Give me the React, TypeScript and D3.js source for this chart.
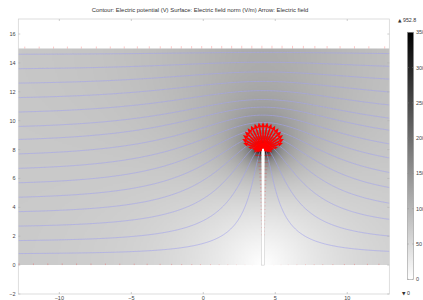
import React, { useMemo } from "react"
import * as d3 from "d3"

const width = 423
const height = 300

const title =
  "Contour: Electric potential (V) Surface: Electric field norm (V/m) Arrow: Electric field"

// axes
const xDomain = [-12.85, 12.92]
const yDomain = [-2, 17.04]
const xTicks = [-10, -5, 0, 5, 10]
const yTicks = [-2, 0, 2, 4, 6, 8, 10, 12, 14, 16]

// geometry: plate gap and needle electrode
const gapBottom = 0
const gapTop = 15
const needleX = 4.15
const needleHalfWidth = 0.1
const needleTip = 8.0

// surface colour range
const farField = 75
const colorMax = 350
const fieldMax = 952.8
const fieldMin = 0
const colorTicks = [0, 50, 100, 150, 200, 250, 300, 350]

// heights where the potential contours meet the left edge of the view
const contourLeftY = [0.8, 1.7, 2.7, 3.7, 4.7, 5.7, 6.7, 7.7, 8.7, 9.6, 10.6, 11.6, 12.6, 13.6, 14.6]

// arrows on the needle tip: direction (deg) and length (axis units)
const fanAngles = [-18, -9, 0, 9, 18, 27, 36, 45, 54, 63, 72, 81, 90, 99, 108, 117, 126, 135, 144, 153, 162, 171, 180, 189, 198]
const fanLengths = [0.4, 0.5, 0.62, 0.95, 1.35, 1.52, 1.62, 1.68, 1.72, 1.76, 1.78, 1.8, 1.8, 1.8, 1.78, 1.76, 1.72, 1.68, 1.62, 1.52, 1.35, 0.95, 0.62, 0.5, 0.4]

// arrows on the needle sides
const sideY = [7.85, 7.6, 7.35, 7.1, 6.85, 6.6, 6.35, 6.1, 5.85, 5.6, 5.35, 5.1, 4.85, 4.6, 4.35, 4.1, 3.85, 3.6, 3.35, 3.1, 2.85, 2.6, 2.35, 2.1]
const sideLengths = [0.55, 0.46, 0.4, 0.34, 0.29, 0.25, 0.22, 0.2, 0.18, 0.16, 0.15, 0.14, 0.13, 0.12, 0.11, 0.1, 0.09, 0.08, 0.07, 0.07, 0.06, 0.05, 0.05, 0.04]

// arrows on the plates
const topArrowX = [-12.4, -11.4, -10.4, -9.44, -8.47, -7.43, -6.46, -5.49, -4.58, -3.75, -2.99, -2.22, -1.53, -0.81, -0.11, 0.58, 1.28, 1.97, 2.67, 3.37, 4.07, 4.77, 5.47, 6.2, 6.95, 7.75, 8.6, 9.5, 10.5, 11.5, 12.6]
const bottomArrowX = [-12.8, -11.8, -10.8, -9.8, -8.8, -7.8, -6.8, -5.8, -4.8, -3.9, -3.0, -2.2, -1.5, -0.8, -0.2, 0.5, 1.1, 1.7, 2.3, 2.9, 3.4, 4.9, 5.4, 5.9, 6.5, 7.1, 7.7, 8.3, 9.0, 9.8, 10.5, 11.4, 12.2]
const arrowScale = 0.0022

const xs = d3.scaleLinear().domain(xDomain).range([18.3, 389.3])
const ys = d3.scaleLinear().domain(yDomain).range([294, 19])
const cs = d3.scaleLinear().domain([0, colorMax]).range([279.3, 32.3])
const grey = d3.scaleLinear().domain([0, colorMax]).range([255, 0]).clamp(true)

const H = 0.1
const GX0 = -25
const NX = 501

function buildModel() {
  const ny = Math.round((gapTop - gapBottom) / H) + 1
  const nx = NX
  const V = new Float64Array(nx * ny)
  const fixed = new Uint8Array(nx * ny)
  const needle = new Uint8Array(nx * ny)
  for (let j = 0; j < ny; j++) {
    const y = gapBottom + j * H
    for (let i = 0; i < nx; i++) {
      const x = GX0 + i * H
      const k = j * nx + i
      V[k] = 1 - (y - gapBottom) / (gapTop - gapBottom)
      const inside = Math.abs(x - needleX) <= needleHalfWidth + 1e-6 && y <= needleTip + 1e-6
      if (inside) needle[k] = 1
      if (j === 0 || inside) {
        V[k] = 1
        fixed[k] = 1
      }
      if (j === ny - 1) {
        V[k] = 0
        fixed[k] = 1
      }
    }
  }
  // SOR relaxation of Laplace's equation
  const w = 1.92
  for (let it = 0; it < 1400; it++) {
    for (let j = 1; j < ny - 1; j++) {
      const row = j * nx
      for (let i = 0; i < nx; i++) {
        const k = row + i
        if (fixed[k]) continue
        const l = i > 0 ? V[k - 1] : V[k + 1]
        const r = i < nx - 1 ? V[k + 1] : V[k - 1]
        const g = 0.25 * (l + r + V[k - nx] + V[k + nx])
        V[k] += w * (g - V[k])
      }
    }
  }
  const scale = farField * (gapTop - gapBottom)
  const Ex = new Float64Array(nx * ny)
  const Ey = new Float64Array(nx * ny)
  const E = new Float64Array(nx * ny)
  for (let j = 0; j < ny; j++) {
    for (let i = 1; i < nx - 1; i++) {
      const k = j * nx + i
      if (needle[k]) continue
      const gx = (V[k + 1] - V[k - 1]) / (2 * H)
      let gy
      if (j === 0) gy = (V[k + nx] - V[k]) / H
      else if (j === ny - 1) gy = (V[k] - V[k - nx]) / H
      else gy = (V[k + nx] - V[k - nx]) / (2 * H)
      Ex[k] = -gx * scale
      Ey[k] = -gy * scale
      E[k] = Math.hypot(gx, gy) * scale
    }
  }

  const sampleV = (x: number, y: number) => {
    const fi = (x - GX0) / H
    const fj = (y - gapBottom) / H
    const i = Math.floor(fi)
    const j = Math.min(Math.floor(fj), ny - 2)
    const tx = fi - i
    const ty = fj - j
    const a = V[j * nx + i], b = V[j * nx + i + 1]
    const c = V[(j + 1) * nx + i], d = V[(j + 1) * nx + i + 1]
    return (a * (1 - tx) + b * tx) * (1 - ty) + (c * (1 - tx) + d * tx) * ty
  }

  // visible sub-grid
  const subX0 = -13.0
  const iA = Math.round((subX0 - GX0) / H)
  const cw = 261
  const ch = ny
  const values = new Float64Array(cw * ch)
  const canvas = document.createElement("canvas")
  canvas.width = cw
  canvas.height = ch
  const ctx = canvas.getContext("2d")!
  const img = ctx.createImageData(cw, ch)
  for (let j = 0; j < ch; j++) {
    for (let ii = 0; ii < cw; ii++) {
      const k = j * nx + iA + ii
      values[j * cw + ii] = V[k]
      const gv = needle[k] ? 255 : Math.round(grey(E[k]))
      const p = ((ch - 1 - j) * cw + ii) * 4
      img.data[p] = gv
      img.data[p + 1] = gv
      img.data[p + 2] = gv
      img.data[p + 3] = 255
    }
  }
  ctx.putImageData(img, 0, 0)
  const href = canvas.toDataURL()

  const levels = contourLeftY.map((y) => sampleV(xDomain[0], y))
  const contours = d3.contours().size([cw, ch]).thresholds(levels)(Array.from(values))
  const proj = d3.geoTransform({
    point(X: number, Y: number) {
      this.stream.point(xs(subX0 + (X - 0.5) * H), ys(gapBottom + (Y - 0.5) * H))
    },
  })
  const geo = d3.geoPath(proj)
  const contourPaths = contours.map((c) => geo(c as any) || "")

  const plateArrow = (x: number, j: number) => {
    const k = j * nx + Math.round((x - GX0) / H)
    return { x, y: gapBottom + j * H, ux: Ex[k] / (E[k] || 1), uy: Ey[k] / (E[k] || 1), len: E[k] * arrowScale }
  }
  const topArrows = topArrowX.map((x) => plateArrow(x, ny - 1))
  const bottomArrows = bottomArrowX.map((x) => plateArrow(x, 0))

  return { href, subX0, contourPaths, topArrows, bottomArrows }
}

function arrowShape(x: number, y: number, ux: number, uy: number, len: number) {
  const x0p = xs(x)
  const y0p = ys(y)
  const x1p = xs(x + ux * len)
  const y1p = ys(y + uy * len)
  const dx = x1p - x0p
  const dy = y1p - y0p
  const L = Math.hypot(dx, dy) || 1
  const hl = Math.min(0.25 * L, 5)
  const hw = Math.min(0.11 * L, 2.2)
  const ex = dx / L
  const ey = dy / L
  const bx = x1p - ex * hl
  const by = y1p - ey * hl
  return {
    shaft: `M${x0p},${y0p}L${bx},${by}`,
    head: `M${x1p},${y1p}L${bx - ey * hw},${by + ex * hw}L${bx + ey * hw},${by - ex * hw}Z`,
    big: L > 6,
  }
}

export default function App() {
  const model = useMemo(() => buildModel(), [])
  const fmt = (v: number) => d3.format("")(v)
  const font = "'Liberation Sans', Arial, sans-serif"

  const fan = fanAngles.map((a, i) => {
    const ux = Math.cos((a * Math.PI) / 180)
    const uy = Math.sin((a * Math.PI) / 180)
    return arrowShape(needleX + 0.1 * ux, needleTip + 0.1 * uy, ux, uy, fanLengths[i])
  })
  const side = sideY.flatMap((y, i) => [
    arrowShape(needleX - needleHalfWidth, y, -1, 0, sideLengths[i]),
    arrowShape(needleX + needleHalfWidth, y, 1, 0, sideLengths[i]),
  ])
  const plates = [...model.topArrows, ...model.bottomArrows].map((a) =>
    arrowShape(a.x, a.y, a.ux, a.uy, a.len)
  )

  const frame = { x0: xs(xDomain[0]), x1: xs(xDomain[1]), y0: ys(yDomain[1]), y1: ys(yDomain[0]) }

  return (
    <svg
      width={width}
      height={height}
      style={{ position: "absolute", left: 0, top: 0, background: "#fff" }}
      fontFamily={font}
    >
      <defs>
        <clipPath id="domain">
          <rect x={frame.x0} y={ys(gapTop)} width={frame.x1 - frame.x0} height={ys(gapBottom) - ys(gapTop)} />
        </clipPath>
        <linearGradient id="cbar" x1="0" y1="1" x2="0" y2="0">
          <stop offset="0" stopColor="#fff" />
          <stop offset="1" stopColor="#000" />
        </linearGradient>
      </defs>

      <text x={200} y={12} textAnchor="middle" fontSize={5.9} fill="#333">
        {title}
      </text>

      <g clipPath="url(#domain)">
        <image
          href={model.href}
          x={xs(model.subX0 - H / 2)}
          y={ys(gapTop + H / 2)}
          width={xs(model.subX0 + 260 * H + H / 2) - xs(model.subX0 - H / 2)}
          height={ys(gapBottom - H / 2) - ys(gapTop + H / 2)}
          preserveAspectRatio="none"
        />
        {model.contourPaths.map((d, i) => (
          <path key={i} d={d} fill="none" stroke="#a2a2ee" strokeWidth={0.6} />
        ))}
      </g>

      {/* needle slot */}
      <rect
        x={xs(needleX - needleHalfWidth)}
        y={ys(needleTip + 0.1)}
        width={xs(needleX + needleHalfWidth) - xs(needleX - needleHalfWidth)}
        height={ys(gapBottom) - ys(needleTip + 0.1)}
        fill="#fff"
        stroke="#c4c4c4"
        strokeWidth={0.5}
      />

      {/* frame and ticks */}
      <rect x={frame.x0} y={frame.y0} width={frame.x1 - frame.x0} height={frame.y1 - frame.y0} fill="none" stroke="#cfcfcf" strokeWidth={0.7} />
      {xTicks.map((t) => (
        <g key={t}>
          <line x1={xs(t)} x2={xs(t)} y1={frame.y1} y2={frame.y1 - 2} stroke="#b0b0b0" strokeWidth={0.6} />
          <line x1={xs(t)} x2={xs(t)} y1={frame.y0} y2={frame.y0 + 2} stroke="#b0b0b0" strokeWidth={0.6} />
          <text x={xs(t)} y={296.2} textAnchor="middle" dominantBaseline="hanging" fontSize={5.5} fill="#444">
            {fmt(t)}
          </text>
        </g>
      ))}
      {yTicks.map((t) => (
        <g key={t}>
          <line x1={frame.x0} x2={frame.x0 + 2} y1={ys(t)} y2={ys(t)} stroke="#b0b0b0" strokeWidth={0.6} />
          <line x1={frame.x1} x2={frame.x1 - 2} y1={ys(t)} y2={ys(t)} stroke="#b0b0b0" strokeWidth={0.6} />
          <text x={15.6} y={ys(t)} textAnchor="end" dominantBaseline="central" fontSize={5.5} fill="#444">
            {fmt(t)}
          </text>
        </g>
      ))}

      {/* arrows */}
      <g fill="#ff0000" stroke="#ff0000">
        {[...plates, ...side].map((a, i) => (
          <g key={i} opacity={a.big ? 0.9 : 0.45}>
            <path d={a.shaft} fill="none" strokeWidth={0.5} />
            {a.big && <path d={a.head} stroke="none" />}
          </g>
        ))}
        {fan.map((a, i) => (
          <g key={"f" + i}>
            <path d={a.shaft} fill="none" strokeWidth={1.6} />
            <path d={a.head} stroke="none" />
          </g>
        ))}
      </g>

      {/* colour bar */}
      <rect x={407.5} y={cs(colorMax)} width={6} height={cs(0) - cs(colorMax)} fill="url(#cbar)" stroke="#888" strokeWidth={0.5} />
      {colorTicks.map((t) => (
        <g key={t}>
          <line x1={407.5} x2={408.7} y1={cs(t)} y2={cs(t)} stroke="#888" strokeWidth={0.5} />
          <line x1={413.5} x2={412.3} y1={cs(t)} y2={cs(t)} stroke="#888" strokeWidth={0.5} />
          <text x={416} y={cs(t)} dominantBaseline="central" fontSize={5.5} fill="#444">
            {fmt(t)}
          </text>
        </g>
      ))}
      <text x={398} y={20} dominantBaseline="central" fontSize={5.3} fill="#333">
        <tspan fontFamily="'DejaVu Sans'" fontSize={4.5}>▲</tspan> {fieldMax.toFixed(1)}
      </text>
      <text x={402} y={293.3} dominantBaseline="central" fontSize={5.3} fill="#333">
        <tspan fontFamily="'DejaVu Sans'" fontSize={4.5}>▼</tspan> {fmt(fieldMin)}
      </text>
    </svg>
  )
}
